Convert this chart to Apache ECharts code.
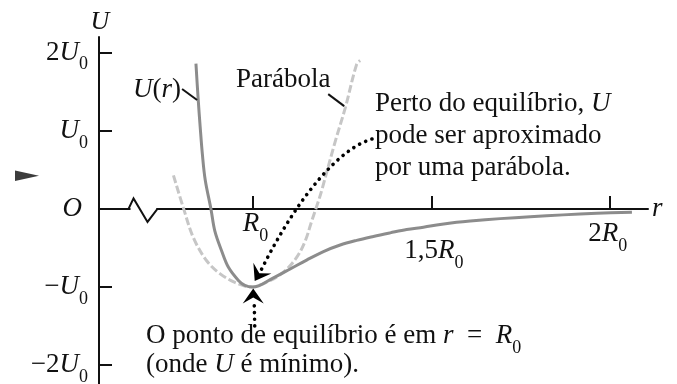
<!DOCTYPE html>
<html>
<head>
<meta charset="utf-8">
<script src="https://cdn.jsdelivr.net/npm/echarts@6/dist/echarts.min.js"></script>
<style>
  html, body { margin: 0; padding: 0; background: #fff; }
  #c { width: 677px; height: 384px; }
</style>
</head>
<body>
<div id="c"></div>
<script>
// Potential energy U(r) near equilibrium; r in units of R0, U in units of U0.
const rCurve = [0.841, 0.847, 0.853, 0.859, 0.867, 0.883, 0.894, 0.913, 0.932, 0.960, 0.978, 1.000,
                1.058, 1.105, 1.151, 1.198, 1.245, 1.291, 1.338, 1.385, 1.431, 1.478, 1.525, 1.571,
                1.609, 1.693, 1.777, 1.869, 1.964, 2.062];
const uCurve = [1.86, 1.42, 1.04, 0.70, 0.37, 0.0, -0.284, -0.537, -0.747, -0.915, -0.979, -1.0,
                -0.881, -0.768, -0.654, -0.545, -0.461, -0.402, -0.352, -0.306, -0.263, -0.234, -0.199, -0.170,
                -0.153, -0.124, -0.100, -0.076, -0.056, -0.042];

// Parabolic approximation around the minimum
const rParab = [0.778, 0.806, 0.834, 0.871, 0.908, 0.950, 0.995, 1.039, 1.086, 1.123, 1.147, 1.165,
                1.184, 1.193, 1.231, 1.259, 1.291, 1.301];
const uParab = [0.43, 0.01, -0.37, -0.663, -0.827, -0.94, -1.0, -0.937, -0.81, -0.62, -0.41, -0.158,
                0.1, 0.234, 0.862, 1.29, 1.85, 1.90];

// Axis ticks and their labels
const yTicks = [-2, -1, 0, 1, 2];
const yTickText = ['{n|\u22122}{i|U}{s|0}', '{n|\u2212}{i|U}{s|0}', '{o|O}', '{i|U}{s|0}', '{n|2}{i|U}{s|0}'];
const xTicks = [1, 1.5, 2];
const xTickText = ['{ai|R}{as|0}', '{a|1,5}{ai|R}{as|0}', '{a|2}{ai|R}{as|0}'];
const yAxisTitle = '{t|U}';

// The r axis is broken between these two values (drawn as a zigzag)
const axisBreak = [0.655, 0.733];
// The equilibrium point
const equilibrium = [1, -1];

const FONT = 'Liberation Serif';
const INK = '#111';
const FS = 27;    // text size
const SUB = 18;   // subscript size

// where each r-tick label sits relative to its tick (left edge, vertical middle)
const xLabelOffset = [[-10, 15], [-27, 42], [-21.5, 25]];

function tok(size, italic, extra) {
  return Object.assign({ fontFamily: FONT, fontSize: size, fontStyle: italic ? 'italic' : 'normal', color: INK }, extra || {});
}

const yRich = {
  n: tok(FS, false, { lineHeight: 50, verticalAlign: 'middle' }),
  i: tok(FS, true, { lineHeight: 50, verticalAlign: 'middle' }),
  o: tok(FS, true, { lineHeight: 50, verticalAlign: 'middle', padding: [0, 6, 0, 0] }),
  s: tok(SUB, false, { lineHeight: 10, verticalAlign: 'top', padding: [28, 0, 0, 0] })
};

const chart = echarts.init(document.getElementById('c'), null, { renderer: 'canvas' });

const option = {
  animation: false,
  backgroundColor: '#fff',
  grid: { left: 99, right: 29, top: 37, bottom: 0, outerBoundsMode: 'none', containLabel: false },
  xAxis: {
    type: 'value',
    min: 0.5695,
    max: 2.107,
    axisLine: { onZero: true, lineStyle: { color: INK, width: 2 } },
    axisTick: { inside: true, length: 13, customValues: xTicks, lineStyle: { color: INK, width: 2 } },
    axisLabel: { show: false },
    splitLine: { show: false },
    name: 'r',
    nameLocation: 'end',
    nameGap: 4,
    nameTextStyle: { fontFamily: FONT, fontStyle: 'italic', fontSize: FS, color: INK, verticalAlign: 'middle', align: 'left' }
  },
  yAxis: {
    type: 'value',
    min: -2.24,
    max: 2.2,
    axisLine: { onZero: false, lineStyle: { color: INK, width: 2 } },
    axisTick: { inside: true, length: 13, customValues: yTicks, lineStyle: { color: INK, width: 2 } },
    axisLabel: {
      customValues: yTicks,
      margin: 11,
      formatter: v => {
        for (let k = 0; k < yTicks.length; k++) if (Math.abs(yTicks[k] - v) < 1e-6) return yTickText[k];
        return '';
      },
      rich: yRich
    },
    splitLine: { show: false }
  },
  series: [
    {
      name: 'Parábola',
      type: 'line',
      data: rParab.map((r, k) => [r, uParab[k]]),
      smooth: 0.35,
      showSymbol: false,
      z: 2,
      lineStyle: { color: '#c6c6c6', width: 3, type: [8, 3] }
    },
    {
      name: 'U(r)',
      type: 'line',
      data: rCurve.map((r, k) => [r, uCurve[k]]),
      smooth: 0.35,
      showSymbol: false,
      z: 3,
      lineStyle: { color: '#8c8c8c', width: 3 }
    }
  ]
};

chart.setOption(option);

// ---- annotations -------------------------------------------------------
const px = p => chart.convertToPixel({ gridIndex: 0 }, p);

const aRich = {
  a: { fontFamily: FONT, fontSize: FS, fontStyle: 'normal', lineHeight: 27, verticalAlign: 'middle' },
  ai: { fontFamily: FONT, fontSize: FS, fontStyle: 'italic', lineHeight: 27, verticalAlign: 'middle' },
  as: { fontFamily: FONT, fontSize: SUB, fontStyle: 'normal', lineHeight: 10, verticalAlign: 'top', padding: [17, 0, 0, 0] },
  t: { fontFamily: FONT, fontSize: 26, fontStyle: 'italic', lineHeight: 26, verticalAlign: 'middle' }
};
function label(text, x, y, align) {
  return {
    type: 'text', z: 50, silent: true,
    style: { text, x, y, fill: INK, align: align || 'left', verticalAlign: 'middle', rich: aRich,
             fontFamily: FONT, fontSize: FS }
  };
}
function arrowHead(tip, dir) {
  const len = Math.hypot(dir[0], dir[1]);
  const d = [dir[0] / len, dir[1] / len];
  const n = [-d[1], d[0]];
  const L = 15, W = 10.5, notch = 9;
  return {
    type: 'polygon', z: 60, silent: true,
    shape: { points: [
      tip,
      [tip[0] - d[0] * L + n[0] * W, tip[1] - d[1] * L + n[1] * W],
      [tip[0] - d[0] * notch, tip[1] - d[1] * notch],
      [tip[0] - d[0] * L - n[0] * W, tip[1] - d[1] * L - n[1] * W]
    ] },
    style: { fill: '#000' }
  };
}
const dotted = { stroke: '#000', lineWidth: 3.6, lineDash: [0.1, 6.6], lineCap: 'round', fill: null };

// r tick labels, placed through the axis scale
const xLabels = xTicks.map((t, k) => {
  const p = px([t, 0]);
  return label(xTickText[k], p[0] + xLabelOffset[k][0], p[1] + xLabelOffset[k][1]);
});

// U axis title above the top of the axis line
const yTop = px([0.5695, 2.2]);
const yTitle = label(yAxisTitle, yTop[0] + 1, yTop[1] - 15, 'center');

// axis break
const b0 = px([axisBreak[0], 0]);
const b1 = px([axisBreak[1], 0]);
const zig = [
  { type: 'rect', z: 40, silent: true, shape: { x: b0[0] + 1, y: b0[1] - 3, width: b1[0] - b0[0] - 2, height: 6 }, style: { fill: '#fff' } },
  { type: 'polyline', z: 41, silent: true,
    shape: { points: [[b0[0] - 1, b0[1]], [b0[0] + 4, b0[1] - 10.5], [b0[0] + 18, b0[1] + 13], [b1[0], b0[1]], [b1[0] + 2, b0[1]]] },
    style: { stroke: INK, lineWidth: 2, fill: null, lineJoin: 'miter' } }
];

// leader lines to the two curves
const uTip = px([rCurve[1], uCurve[1]]);
const pTip = px([rParab[15], uParab[15]]);
const leaders = [
  { type: 'line', z: 45, silent: true, shape: { x1: uTip[0] - 16, y1: uTip[1] - 9, x2: uTip[0] - 1, y2: uTip[1] + 2 }, style: { stroke: INK, lineWidth: 2 } },
  { type: 'line', z: 45, silent: true, shape: { x1: pTip[0] - 17, y1: pTip[1] - 14, x2: pTip[0] - 1, y2: pTip[1] - 2 }, style: { stroke: INK, lineWidth: 2 } }
];

// dotted arrows to the equilibrium point
const eq = px(equilibrium);
const topTip = [eq[0] + 2, eq[1] - 6];
const topDir = [-11.7, 19.7];
const tl = Math.hypot(topDir[0], topDir[1]);
const topBase = [topTip[0] - topDir[0] / tl * 11, topTip[1] - topDir[1] / tl * 11];
const botTip = [eq[0] + 0.5, eq[1] + 1.5];
const arrows = [
  { type: 'bezierCurve', z: 55, silent: true,
    shape: { x1: 372, y1: 139, cpx1: 341, cpy1: 148, cpx2: 300, cpy2: 192, x2: topBase[0], y2: topBase[1] },
    style: dotted },
  arrowHead(topTip, topDir),
  { type: 'line', z: 55, silent: true,
    shape: { x1: botTip[0] + 1.5, y1: 326, x2: botTip[0] + 1, y2: botTip[1] + 13 }, style: dotted },
  arrowHead(botTip, [0, -1])
];

const texts = [
  label('{ai|U}{a|(}{ai|r}{a|)}', 133, 89.5),
  label('{a|Parábola}', 236, 79.5),
  label('{a|Perto do equilíbrio, }{ai|U}', 375, 104),
  label('{a|pode ser aproximado}', 375, 136),
  label('{a|por uma parábola.}', 375, 168),
  label('{a|O ponto de equilíbrio é em }{ai|r}{a|\u2002=\u2002}{ai|R}{as|0}', 146, 336),
  label('{a|(onde }{ai|U}{a| é mínimo).}', 146, 365)
];

// margin mark at the left edge
const wedge = { type: 'polygon', z: 30, silent: true,
  shape: { points: [[15, 170.5], [39, 175.8], [15, 181]] }, style: { fill: '#3c3c3c' } };

chart.setOption({ graphic: { elements: [].concat(zig, leaders, arrows, xLabels, [yTitle], texts, [wedge]) } });
</script>
</body>
</html>
